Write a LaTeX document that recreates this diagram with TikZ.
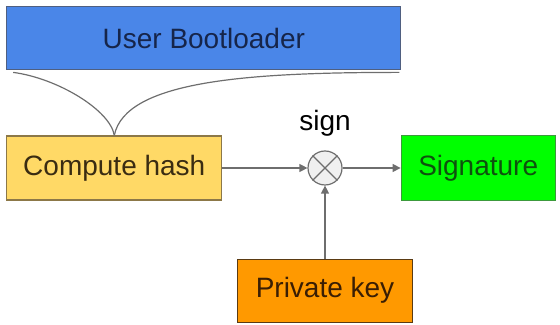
\documentclass[tikz,border=0pt]{standalone}
\usepackage{fontspec}
\setmainfont{Liberation Sans}
\usetikzlibrary{positioning,arrows.meta}

\definecolor{bootfill}{HTML}{4A86E8}
\definecolor{bootline}{HTML}{4F5F80}
\definecolor{boottext}{HTML}{16254A}
\definecolor{hashfill}{HTML}{FFD966}
\definecolor{hashline}{HTML}{8C7848}
\definecolor{hashtext}{HTML}{3A2C12}
\definecolor{sigfill}{HTML}{00FF00}
\definecolor{sigline}{HTML}{3C9A3C}
\definecolor{sigtext}{HTML}{0E520E}
\definecolor{keyfill}{HTML}{FF9900}
\definecolor{keyline}{HTML}{5A3A12}
\definecolor{keytext}{HTML}{3A1E04}
\definecolor{wire}{HTML}{6E6E6E}

\tikzset{
  box/.style={draw, line width=0.6pt, inner sep=0pt, font=\fontsize{14}{17}\selectfont},
  wire/.style={draw=wire, line width=0.6pt, -{Triangle[length=4pt,width=4pt]}},
}

\begin{document}
\begin{tikzpicture}
    \useasboundingbox (0,0) rectangle (280pt,162.5pt);

    % signing step in the middle
    \node (mult) at (162.5pt,78.5pt) [circle, draw=wire, fill=gray!12, line width=0.6pt, minimum size=17pt, inner sep=0pt] {};
    \draw[wire, -] (mult.north west) -- (mult.south east);
    \draw[wire, -] (mult.north east) -- (mult.south west);
    \node (signlbl) [above=7pt of mult, inner sep=0pt, font=\fontsize{14}{17}\selectfont] {sign};

    \node (hash) [box, fill=hashfill, draw=hashline, text=hashtext, minimum width=107.5pt, minimum height=32pt, left=42.5pt of mult] {Compute hash};
    \node (sig) [box, fill=sigfill, draw=sigline, text=sigtext, minimum width=77pt, minimum height=32.5pt, right=29pt of mult] {Signature};
    \node (key) [box, fill=keyfill, draw=keyline, text=keytext, minimum width=87.5pt, minimum height=31.5pt, below=36.5pt of mult] {Private key};
    \node (boot) [box, fill=bootfill, draw=bootline, text=boottext, minimum width=197pt, minimum height=31.5pt, above right=32.5pt and 0pt of hash.north west] {User Bootloader};

    % the bootloader is what gets hashed
    \draw[wire, -] ([xshift=3.5pt, yshift=-1pt]boot.south west) .. controls +(22.5pt,-3pt) and +(-2pt,12.5pt) .. (hash.north);
    \draw[wire, -] ([xshift=-1pt, yshift=-1pt]boot.south east) .. controls +(-75pt,0pt) and +(5.5pt,27.5pt) .. (hash.north);

    \draw[wire] (hash) -- (mult);
    \draw[wire] (mult) -- (sig);
    \draw[wire] (key) -- (mult);
  \end{tikzpicture}
\end{document}
